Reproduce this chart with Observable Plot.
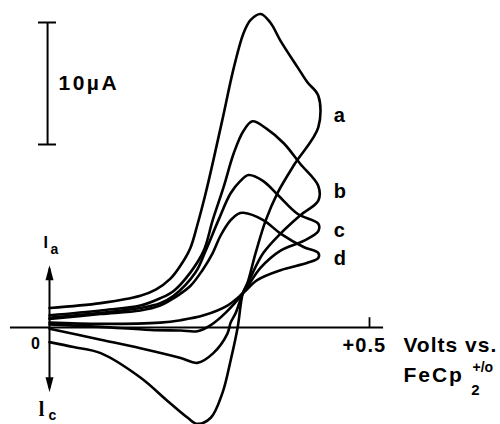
<!DOCTYPE html>
<html>
<head>
<meta charset="utf-8">
<script src="https://cdn.jsdelivr.net/npm/d3@7"></script>
<script src="https://cdn.jsdelivr.net/npm/@observablehq/plot@0.6"></script>
<style>
  html, body { margin: 0; padding: 0; background: #fff; }
  #chart svg { display: block; }
</style>
</head>
<body>
<div id="chart"></div>
<script>
// Potential (V vs FeCp2+/0) and current (µA)
const curves = ["a", "b", "c", "d"];

const aE = [0, 0.080, 0.142, 0.166, 0.189, 0.205, 0.220, 0.231, 0.244, 0.256, 0.270, 0.288, 0.303, 0.314, 0.330, 0.345, 0.361, 0.388, 0.403, 0.420, 0.420, 0.383, 0.356, 0.338, 0.322, 0.309, 0.302, 0.294, 0.283, 0.270, 0.252, 0.231, 0.216, 0.184, 0.142, 0.080, 0.0375, 0];
const aI = [1.6, 2.0, 2.6, 3.1, 4.0, 5.1, 6.5, 8.4, 11.0, 13.7, 17.0, 21.3, 24.1, 25.2, 25.7, 25.0, 23.5, 21.3, 20.1, 19.0, 16.4, 13.4, 11.0, 8.8, 6.1, 3.6, 2.8, 0, -2.7, -5.4, -7.4, -7.9, -7.4, -6.0, -4.1, -2.1, -1.6, -1.2];

const bE = [0, 0.080, 0.142, 0.173, 0.194, 0.220, 0.241, 0.255, 0.272, 0.288, 0.303, 0.317, 0.339, 0.366, 0.392, 0.420, 0.420, 0.392, 0.361, 0.334, 0.314, 0.302, 0.291, 0.283, 0.278, 0.256, 0.231, 0.205, 0.142, 0.080, 0];
const bI = [1.0, 1.4, 1.8, 2.4, 3.0, 4.5, 6.3, 8.8, 11.5, 14.3, 16.1, 16.9, 16.3, 15.1, 13.4, 11.6, 10.4, 9.2, 7.7, 6.1, 4.1, 2.8, 1.2, 0.4, -0.5, -2.1, -2.9, -2.5, -1.7, -1.0, -0.1];

const cE = [0, 0.080, 0.142, 0.173, 0.194, 0.228, 0.244, 0.264, 0.283, 0.298, 0.311, 0.334, 0.358, 0.388, 0.420, 0.420, 0.397, 0.361, 0.330, 0.302, 0.275, 0.252, 0.231, 0.205, 0.158, 0.080, 0];
const cI = [0.8, 1.2, 1.6, 2.0, 2.6, 4.5, 6.3, 8.8, 11.0, 12.0, 12.5, 12.0, 10.8, 9.3, 8.5, 7.9, 7.1, 6.3, 4.9, 2.8, 1.2, 0.2, -0.3, -0.25, -0.2, 0.05, 0.25];

const dE = [0, 0.080, 0.142, 0.173, 0.194, 0.220, 0.239, 0.255, 0.267, 0.283, 0.294, 0.303, 0.334, 0.361, 0.397, 0.420, 0.420, 0.403, 0.361, 0.325, 0.302, 0.278, 0.241, 0.205, 0.173, 0.080, 0];
const dI = [0.7, 1.1, 1.4, 1.8, 2.4, 3.4, 4.7, 6.1, 7.5, 8.8, 9.3, 9.4, 8.8, 7.7, 6.6, 6.1, 5.7, 5.3, 4.7, 3.9, 2.8, 1.8, 1.0, 0.6, 0.4, 0.3, 0.4];

// curve label anchors (V, µA)
const labelE = [0.444, 0.444, 0.444, 0.444];
const labelI = [17.4, 11.1, 7.95, 5.66];

// x-axis tick
const xTicks = [0.5];
const xTickLabels = ["+0.5"];

// scale bar (µA)
const scaleBar = [15, 25];
const scaleLabel = "10\u00b5A";

const series = {a: [aE, aI], b: [bE, bI], c: [cE, cI], d: [dE, dI]};
const rows = curves.flatMap(k => series[k][0].map((E, i) => ({curve: k, E, I: series[k][1][i]})));
const labels = curves.map((k, i) => ({curve: k, E: labelE[i], I: labelI[i]}));

const headUp = {
  draw(ctx) { ctx.moveTo(0, 0); ctx.lineTo(4, 15); ctx.lineTo(-4, 15); ctx.closePath(); }
};

const font = "'Liberation Sans', Arial, sans-serif";
const bold = {fontSize: 20, fontWeight: "bold", fill: "#000"};
const big = {fontSize: 21, fontWeight: "bold", fill: "#000"};

const chart = Plot.plot({
  width: 500,
  height: 424,
  marginTop: 0, marginRight: 0, marginBottom: 0, marginLeft: 0,
  style: {background: "#fff", fontFamily: font, color: "#000"},
  x: {domain: [0, 0.5], range: [49, 369], axis: null},
  y: {domain: [0, 10], range: [327, 205], axis: null},
  marks: [
    // axis line and tick
    Plot.ruleY([0], {x1: -0.061, x2: 0.522, stroke: "#000", strokeWidth: 2}),
    Plot.ruleX(xTicks, {y1: 0, y2: 0.8, stroke: "#000", strokeWidth: 1.8}),
    // current arrow
    Plot.ruleX([0], {y1: -5.0, y2: 4.8, stroke: "#000", strokeWidth: 2}),
    Plot.dot([0], {x: d => d, y: 5.1, symbol: headUp, fill: "#000", stroke: "none"}),
    Plot.dot([0], {x: d => d, y: -5.3, symbol: headUp, rotate: 180, fill: "#000", stroke: "none"}),
    // scale bar
    Plot.ruleX([-0.003], {y1: scaleBar[0], y2: scaleBar[1], stroke: "#000", strokeWidth: 2}),
    Plot.ruleY(scaleBar, {x1: -0.0172, x2: 0.0109, stroke: "#000", strokeWidth: 2}),
    Plot.text([scaleLabel], {x: 0.014, y: 20.0, text: d => d, textAnchor: "start", ...big}),
    // voltammograms
    Plot.line(rows, {x: "E", y: "I", z: "curve", stroke: "#000", strokeWidth: 2.6, curve: "catmull-rom", strokeLinejoin: "round"}),
    // curve labels
    Plot.text(labels, {x: "E", y: "I", text: "curve", textAnchor: "start", ...bold}),
    // axis texts
    Plot.text(xTickLabels, {x: 0.458, y: -1.45, text: d => d, textAnchor: "start", ...bold}),
    Plot.text(["Volts vs."], {x: 0.553, y: -1.45, text: d => d, textAnchor: "start", ...big}),
    Plot.text(["FeCp"], {x: 0.553, y: -3.93, text: d => d, textAnchor: "start", ...big}),
    Plot.text(["2"], {x: 0.659, y: -5.1, text: d => d, textAnchor: "start", fontSize: 15, fontWeight: "bold", fill: "#000"}),
    Plot.text(["+/o"], {x: 0.661, y: -3.25, text: d => d, textAnchor: "start", fontSize: 14, fontWeight: "bold", fill: "#000"}),
    Plot.text(["0"], {x: -0.022, y: -1.31, text: d => d, textAnchor: "middle", fontSize: 16, fontWeight: "bold", fill: "#000"}),
    Plot.text(["I"], {x: -0.006, y: 6.97, text: d => d, textAnchor: "middle", fontSize: 16, fontWeight: "bold", fill: "#000"}),
    Plot.text(["a"], {x: 0.0016, y: 6.39, text: d => d, textAnchor: "start", fontSize: 14, fontWeight: "bold", fill: "#000"}),
    Plot.text(["l"], {x: -0.0125, y: -6.72, text: d => d, textAnchor: "middle", fontSize: 20, fontWeight: "bold", fontFamily: "'Liberation Serif', serif", fill: "#000"}),
    Plot.text(["c"], {x: -0.0016, y: -7.21, text: d => d, textAnchor: "start", fontSize: 14, fontWeight: "bold", fill: "#000"})
  ]
});

// letter spacing like the original lettering
const spacing = {"Volts vs.": "1px", "FeCp": "2px", "+0.5": "1px", "10\u00b5A": "2.5px"};
d3.select(chart).selectAll("text").each(function() {
  const s = spacing[this.textContent];
  if (s) this.style.letterSpacing = s;
});

document.getElementById("chart").appendChild(chart);
</script>
</body>
</html>
